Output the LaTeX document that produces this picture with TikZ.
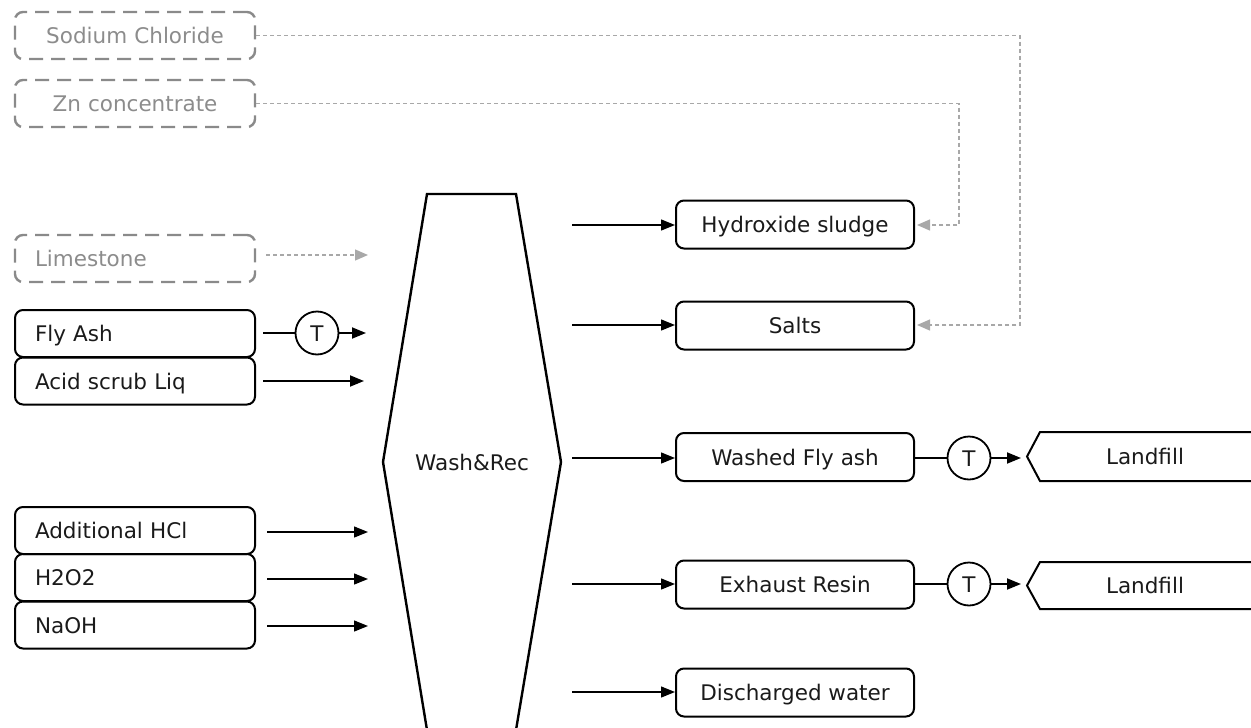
\documentclass[tikz,border=0pt]{standalone}
\usepackage{fontspec}
\setmainfont{DejaVu Sans}
\usetikzlibrary{arrows.meta}
\definecolor{txt}{HTML}{1A1A1A}
\definecolor{gtxt}{HTML}{8C8C8C}
\definecolor{gline}{HTML}{8A8A8A}
\definecolor{gconn}{HTML}{A8A8A8}
\begin{document}
\begin{tikzpicture}[x=1pt,y=-1pt,
  font=\fontsize{21.5}{25}\selectfont,
  every node/.style={text height=16pt, text depth=0pt},
  srcbox/.style={draw, line width=2pt, rounded corners=8pt, text=txt,
    minimum height=47pt, text width=200pt, inner xsep=20pt, align=left},
  gbox/.style={srcbox, draw=gline, text=gtxt, dash pattern=on 14pt off 8pt, line width=2.4pt},
  outbox/.style={draw, line width=2pt, rounded corners=8pt, text=txt,
    minimum height=48pt, minimum width=238pt, align=center},
  tcirc/.style={draw, circle, line width=1.8pt, minimum size=43pt, inner sep=0pt, text=txt},
  conn/.style={line width=1.3pt, -{Triangle[length=14pt,width=11pt]}},
  plain/.style={line width=1.8pt},
  gconnst/.style={draw=gconn, line width=1.3pt, dash pattern=on 4pt off 3pt,
    -{Triangle[length=13pt,width=11pt]}, color=gconn},
]
\useasboundingbox (0,0) rectangle (1251,728);

% left inputs
\node[gbox, align=center] (nacl) at (135,35.5) {Sodium Chloride};
\node[gbox, align=center] (zn) at (135,103.5) {Zn concentrate};
\node[gbox] (lime) at (135,258.5) {Limestone};
\node[srcbox] (fly) at (135,333.5) {Fly Ash};
\node[srcbox] (acid) at (135,381) {Acid scrub Liq};
\node[srcbox] (hcl) at (135,530.5) {Additional HCl};
\node[srcbox] (h2o2) at (135,577.5) {H2O2};
\node[srcbox] (naoh) at (135,625) {NaOH};

% wash & rec hexagon
\draw[line width=2.4pt, line join=miter] (427,194) -- (516,194) -- (561,462) -- (516,730) -- (427,730) -- (383,462) -- cycle;
\node[text=txt] (wash) at (472,462) {Wash\&Rec};

% free ends near hexagon
\coordinate (inLime) at (368,255);
\coordinate (inFly) at (366,333);
\coordinate (inAcid) at (364,381);
\coordinate (inHcl) at (368,532);
\coordinate (inH2o2) at (368,579);
\coordinate (inNaoh) at (368,626);
\coordinate (o1) at (572,225);
\coordinate (o2) at (572,325);
\coordinate (o3) at (572,458);
\coordinate (o4) at (572,584);
\coordinate (o5) at (572,692);

% output boxes
\node[outbox] (hyd) at (795,224.5) {Hydroxide sludge};
\node[outbox] (salts) at (795,325.5) {Salts};
\node[outbox] (wfa) at (795,457) {Washed Fly ash};
\node[outbox] (resin) at (795,584.5) {Exhaust Resin};
\node[outbox] (water) at (795,692.5) {Discharged water};

% transport circles
\node[tcirc] (t1) at (317,333) {T};
\node[tcirc] (t2) at (969,458) {T};
\node[tcirc] (t3) at (969,584) {T};

% landfill shapes
\draw[line width=2pt, line join=miter] (1262,432) -- (1040,432) -- (1027,456.5) -- (1040,481) -- (1262,481);
\node[text=txt] (lf1) at (1145,456) {Landfill};
\coordinate (lf1tip) at (1021,458);
\draw[line width=2pt, line join=miter] (1262,562) -- (1040,562) -- (1027,585.5) -- (1040,609) -- (1262,609);
\node[text=txt] (lf2) at (1145,585) {Landfill};
\coordinate (lf2tip) at (1021,584);

% input connectors
\draw[gconnst] ([xshift=10pt]lime.east |- inLime) -- (inLime);
\draw[plain] ([xshift=7pt]fly.east |- t1) -- (t1.west);
\draw[plain, -{Triangle[length=14pt,width=11pt]}] (t1.east) -- (inFly);
\draw[plain, -{Triangle[length=14pt,width=11pt]}] ([xshift=7pt]acid.east |- inAcid) -- (inAcid);
\draw[conn] ([xshift=11pt]hcl.east |- inHcl) -- (inHcl);
\draw[conn] ([xshift=11pt]h2o2.east |- inH2o2) -- (inH2o2);
\draw[conn] ([xshift=11pt]naoh.east |- inNaoh) -- (inNaoh);

% output connectors
\draw[conn] (o1) -- (hyd.west |- o1);
\draw[conn] (o2) -- (salts.west |- o2);
\draw[conn] (o3) -- (wfa.west |- o3);
\draw[conn] (o4) -- (resin.west |- o4);
\draw[conn] (o5) -- (water.west |- o5);

\draw[plain] (wfa.east |- t2) -- (t2.west);
\draw[plain, -{Triangle[length=14pt,width=11pt]}] (t2.east) -- (lf1tip);
\draw[plain] (resin.east |- t3) -- (t3.west);
\draw[plain, -{Triangle[length=14pt,width=11pt]}] (t3.east) -- (lf2tip);

% gray dashed feedback lines
\draw[gconnst] (nacl.east) -- (1020,35.5) -- (1020,325) -- ([xshift=2pt]salts.east |- 0,325);
\draw[gconnst] (zn.east) -- (959,103.5) -- (959,225) -- ([xshift=2pt]hyd.east |- 0,225);
\end{tikzpicture}
\end{document}
